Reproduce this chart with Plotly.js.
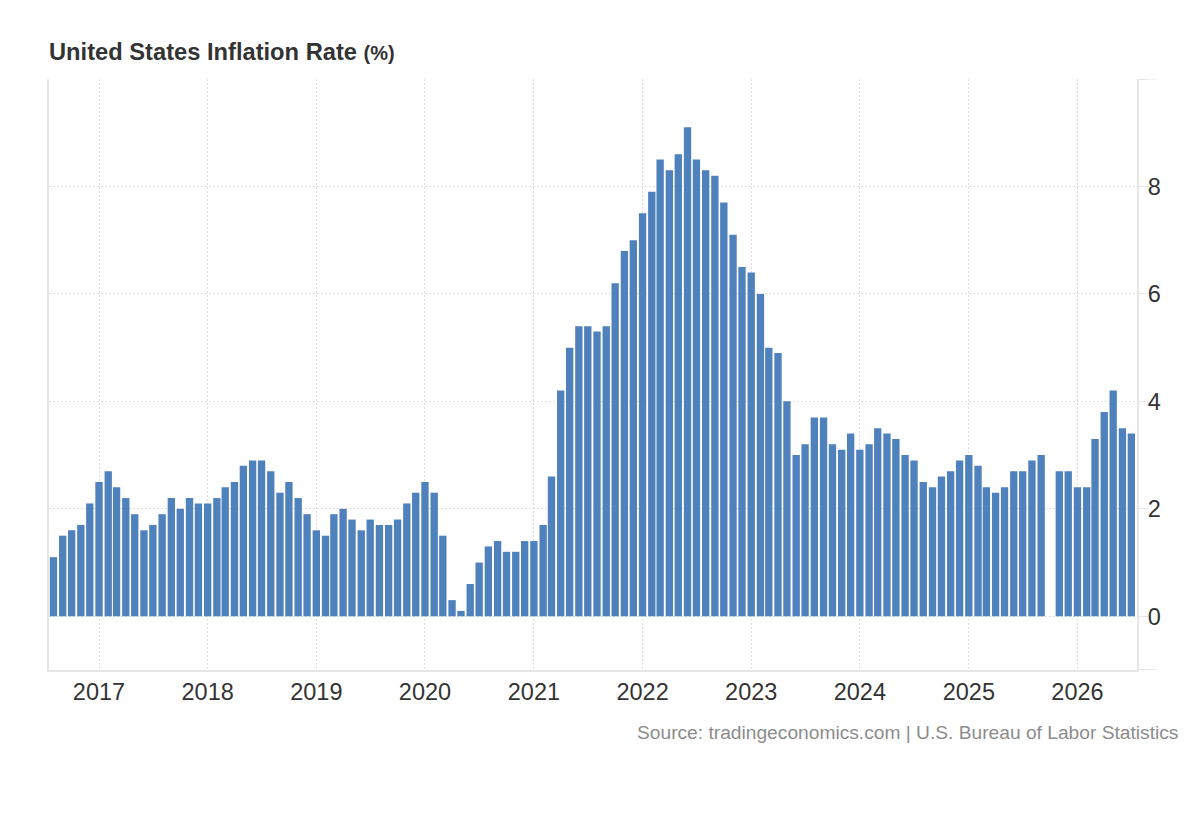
<!DOCTYPE html>
<html>
<head>
<meta charset="utf-8">
<script src="https://cdn.plot.ly/plotly-3.0.1.min.js"></script>
<style>
  html, body { margin: 0; padding: 0; background: #ffffff; }
  #chart { width: 1200px; height: 820px; }
</style>
</head>
<body>
<div id="chart"></div>
<script>
// Monthly US CPI inflation, Aug 2016 – Jul 2026 (Oct 2025 missing)
const startMonth = '2016-08';
const values = [
  1.1, 1.5, 1.6, 1.7, 2.1,
  2.5, 2.7, 2.4, 2.2, 1.9, 1.6, 1.7, 1.9, 2.2, 2.0, 2.2, 2.1,
  2.1, 2.2, 2.4, 2.5, 2.8, 2.9, 2.9, 2.7, 2.3, 2.5, 2.2, 1.9,
  1.6, 1.5, 1.9, 2.0, 1.8, 1.6, 1.8, 1.7, 1.7, 1.8, 2.1, 2.3,
  2.5, 2.3, 1.5, 0.3, 0.1, 0.6, 1.0, 1.3, 1.4, 1.2, 1.2, 1.4,
  1.4, 1.7, 2.6, 4.2, 5.0, 5.4, 5.4, 5.3, 5.4, 6.2, 6.8, 7.0,
  7.5, 7.9, 8.5, 8.3, 8.6, 9.1, 8.5, 8.3, 8.2, 7.7, 7.1, 6.5,
  6.4, 6.0, 5.0, 4.9, 4.0, 3.0, 3.2, 3.7, 3.7, 3.2, 3.1, 3.4,
  3.1, 3.2, 3.5, 3.4, 3.3, 3.0, 2.9, 2.5, 2.4, 2.6, 2.7, 2.9,
  3.0, 2.8, 2.4, 2.3, 2.4, 2.7, 2.7, 2.9, 3.0, null, 2.7, 2.7,
  2.4, 2.4, 3.3, 3.8, 4.2, 3.5, 3.4
];
const yTickVals = [0, 2, 4, 6, 8, 10];
const yTickText = ['0', '2', '4', '6', '8', ''];
const xTickVals = ['2017-01-01','2018-01-01','2019-01-01','2020-01-01','2021-01-01',
                   '2022-01-01','2023-01-01','2024-01-01','2025-01-01','2026-01-01'];
const xTickText = ['2017','2018','2019','2020','2021','2022','2023','2024','2025','2026'];

// build month dates
const months = [];
{
  let [yy, mm] = startMonth.split('-').map(Number);
  for (let i = 0; i < values.length; i++) {
    months.push(yy + '-' + String(mm).padStart(2, '0') + '-01');
    mm++; if (mm > 12) { mm = 1; yy++; }
  }
}

const FONT = '"Liberation Sans", Arial, Helvetica, sans-serif';
const GRID = '#dedede';
const AXIS = '#e6e6e6';

const trace = {
  type: 'bar',
  x: months,
  y: values,
  marker: { color: '#4f81bd', line: { width: 0 } },
  hoverinfo: 'none'
};

const layout = {
  width: 1200,
  height: 820,
  margin: { l: 49, r: 63, t: 79, b: 150 },
  paper_bgcolor: '#ffffff',
  plot_bgcolor: '#ffffff',
  bargap: 0.12,
  showlegend: false,
  font: { family: FONT, color: '#333333' },
  title: {
    text: '<b>United States Inflation Rate</b> <b><span style="font-size:20px">(%)</span></b>',
    font: { family: FONT, size: 23.7, color: '#333333' },
    x: 49 / 1200, xref: 'container', xanchor: 'left',
    y: 1 - 52 / 820, yref: 'container', yanchor: 'middle'
  },
  xaxis: {
    type: 'date',
    range: ['2016-07-17', '2026-07-20'],
    tickmode: 'array',
    tickvals: xTickVals,
    ticktext: xTickText,
    ticks: '',
    tickfont: { family: FONT, size: 23.5, color: '#333333' },
    showgrid: true,
    gridcolor: GRID,
    gridwidth: 1,
    griddash: '2px,2px',
    showline: true,
    linecolor: AXIS,
    linewidth: 2,
    zeroline: false,
    fixedrange: true
  },
  yaxis: {
    side: 'right',
    range: [-1, 10],
    tickmode: 'array',
    tickvals: yTickVals,
    ticktext: yTickText,
    ticks: 'outside',
    ticklen: 9,
    tickwidth: 1,
    tickcolor: AXIS,
    ticklabelstandoff: -5,
    tickfont: { family: FONT, size: 23.5, color: '#333333' },
    showgrid: true,
    gridcolor: GRID,
    gridwidth: 1,
    griddash: '2px,2px',
    showline: true,
    mirror: true,
    linecolor: AXIS,
    linewidth: 2,
    zeroline: false,
    fixedrange: true
  },
  shapes: [
    { type: 'line', xref: 'paper', yref: 'y', x0: 1, x1: 1 + 19 / 1088, y0: 10, y1: 10,
      line: { color: AXIS, width: 1 } },
    { type: 'line', xref: 'paper', yref: 'y', x0: 1, x1: 1 + 19 / 1088, y0: -1, y1: -1,
      line: { color: AXIS, width: 2 } }
  ],
  annotations: [
    {
      text: 'Source: tradingeconomics.com | U.S. Bureau of Labor Statistics',
      xref: 'paper', yref: 'paper',
      x: (1180 - 49) / 1088, y: (670 - 732) / 591,
      xanchor: 'right', yanchor: 'middle',
      showarrow: false,
      font: { family: FONT, size: 19.2, color: '#8c8c8c' }
    }
  ]
};

Plotly.newPlot('chart', [trace], layout, { displayModeBar: false, staticPlot: true });
</script>
</body>
</html>
